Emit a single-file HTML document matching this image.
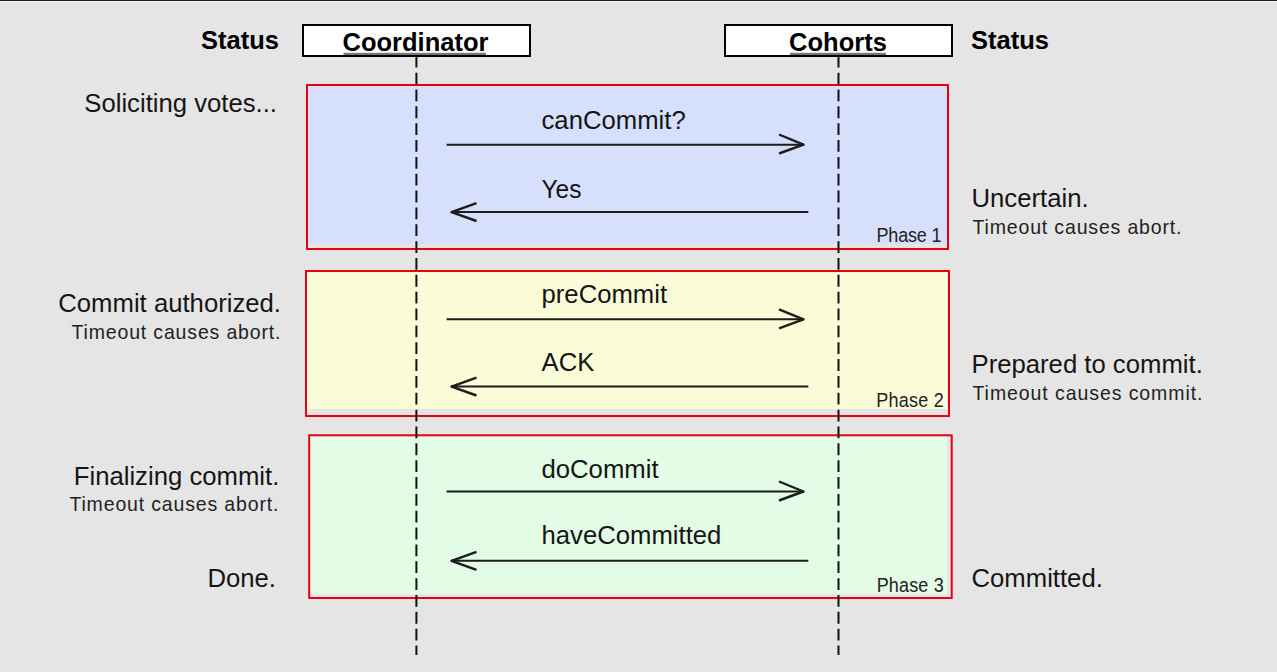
<!DOCTYPE html>
<html>
<head>
<meta charset="utf-8">
<style>
html,body{margin:0;padding:0;width:1277px;height:672px;overflow:hidden;background:#e5e5e5;}
svg{display:block;}
text{font-family:"Liberation Sans", sans-serif;fill:#000;}
.b{font-weight:bold;font-size:25.5px;}
.m{font-size:25.7px;fill:#151515;}
.s{font-size:19.5px;fill:#222;}
.p{font-size:18px;fill:#222;}
</style>
</head>
<body>
<svg width="1277" height="672" viewBox="0 0 1277 672">
  <rect x="0" y="0" width="1277" height="672" fill="#e5e5e5"/>
  <rect x="0" y="0" width="1277" height="1" fill="#202020"/>
  <rect x="0" y="1" width="1277" height="1" fill="#f2f2f2"/>

  <!-- phase boxes -->
  <rect x="308" y="86" width="639" height="158" fill="#d6e0fc"/>
  <rect x="307" y="85" width="641" height="164" fill="none" stroke="#e8000e" stroke-width="2"/>

  <rect x="307" y="272" width="640" height="137" fill="#fafcd8"/>
  <rect x="306" y="271" width="643" height="145" fill="none" stroke="#e8000e" stroke-width="2"/>

  <rect x="310" y="436" width="637" height="158" fill="#e2fce6"/>
  <rect x="309.2" y="435.3" width="642.5" height="162.7" fill="none" stroke="#e8000e" stroke-width="2"/>

  <!-- actor boxes -->
  <rect x="303" y="25" width="227" height="31" fill="#fff" stroke="#000" stroke-width="2"/>
  <rect x="725" y="25" width="227" height="31" fill="#fff" stroke="#000" stroke-width="2"/>

  <!-- lifelines -->
  <line x1="416.4" y1="57" x2="416.4" y2="655" stroke="#111" stroke-width="2" stroke-dasharray="11.8 5.05" stroke-dashoffset="1.2"/>
  <line x1="838.5" y1="57" x2="838.5" y2="655" stroke="#111" stroke-width="2" stroke-dasharray="11.8 5.05" stroke-dashoffset="1.2"/>

  <!-- arrows -->
  <g stroke="#1c1c1c" stroke-width="2" fill="none" stroke-linecap="butt" stroke-linejoin="round">
    <line x1="446.6" y1="144.7" x2="804" y2="144.7"/>
    <polyline points="779,134.5 803.5,144.7 779,153.5" stroke-width="2.4"/>
    <line x1="451" y1="212.1" x2="808.3" y2="212.1"/>
    <polyline points="476.5,203.2 451.5,212.1 476.5,221" stroke-width="2.4"/>

    <line x1="446.6" y1="319.3" x2="804" y2="319.3"/>
    <polyline points="779,309.3 803.5,319.3 779,328.3" stroke-width="2.4"/>
    <line x1="451" y1="386.6" x2="808.3" y2="386.6"/>
    <polyline points="476.5,377.6 451.5,386.6 476.5,395.5" stroke-width="2.4"/>

    <line x1="446.6" y1="491.5" x2="804" y2="491.5"/>
    <polyline points="779,481.5 803.5,491.5 779,500.5" stroke-width="2.4"/>
    <line x1="451" y1="560.8" x2="808.3" y2="560.8"/>
    <polyline points="476.5,551.8 451.5,560.8 476.5,569.8" stroke-width="2.4"/>
  </g>

  <!-- headers -->
  <text class="b" transform="translate(0,49.3) scale(1,1.045)" x="279" y="0" text-anchor="end">Status</text>
  <text class="b" transform="translate(0,49.3) scale(1,1.045)" x="971" y="0">Status</text>
  <text class="b" transform="translate(0,51) scale(1,1.045)" x="415.5" y="0" text-anchor="middle">Coordinator</text>
  <rect x="343.5" y="52.8" width="142.5" height="2.2" fill="#777"/>
  <text class="b" transform="translate(0,51) scale(1,1.045)" x="838" y="0" text-anchor="middle">Cohorts</text>
  <rect x="790" y="52.8" width="96" height="2.2" fill="#777"/>

  <!-- left status -->
  <text class="m" x="277" y="112.4" text-anchor="end">Soliciting votes...</text>
  <text class="m" x="281" y="311.6" text-anchor="end">Commit authorized.</text>
  <text class="s" transform="translate(0,338.9) scale(1,1.07)" x="71.5" y="0" textLength="209" lengthAdjust="spacing">Timeout causes abort.</text>
  <text class="m" x="279.3" y="484.6" text-anchor="end">Finalizing commit.</text>
  <text class="s" transform="translate(0,511) scale(1,1.07)" x="69.4" y="0" textLength="209" lengthAdjust="spacing">Timeout causes abort.</text>
  <text class="m" x="276" y="586.6" text-anchor="end">Done.</text>

  <!-- right status -->
  <text class="m" x="971.5" y="206.6">Uncertain.</text>
  <text class="s" transform="translate(0,234.4) scale(1,1.07)" x="972.5" y="0" textLength="209" lengthAdjust="spacing">Timeout causes abort.</text>
  <text class="m" x="971.5" y="372.6">Prepared to commit.</text>
  <text class="s" transform="translate(0,400.3) scale(1,1.07)" x="972.5" y="0" textLength="230" lengthAdjust="spacing">Timeout causes commit.</text>
  <text class="m" x="971.5" y="587">Committed.</text>

  <!-- messages -->
  <text class="m" x="541.5" y="128.75">canCommit?</text>
  <text class="m" x="541.5" y="198.1" textLength="40" lengthAdjust="spacingAndGlyphs">Yes</text>
  <text class="m" x="541.5" y="303.3">preCommit</text>
  <text class="m" x="541.5" y="370.6">ACK</text>
  <text class="m" x="541.5" y="477.9">doCommit</text>
  <text class="m" x="541.5" y="544.2">haveCommitted</text>

  <!-- phase labels -->
  <text class="p" transform="translate(876.5,242.4) scale(1,1.16)" x="0" y="0" textLength="65" lengthAdjust="spacing">Phase 1</text>
  <text class="p" transform="translate(876.2,406.8) scale(1,1.16)" x="0" y="0" textLength="67.5" lengthAdjust="spacing">Phase 2</text>
  <text class="p" transform="translate(876.7,591.9) scale(1,1.16)" x="0" y="0" textLength="67" lengthAdjust="spacing">Phase 3</text>
</svg>
</body>
</html>
